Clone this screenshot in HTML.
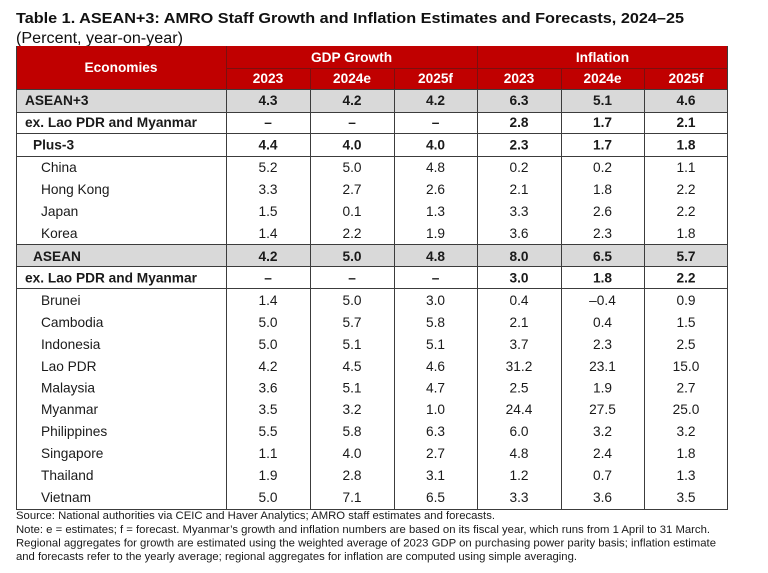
<!DOCTYPE html>
<html>
<head>
<meta charset="utf-8">
<style>
  html,body{margin:0;padding:0;background:#fff;}
  svg{display:block;}
  text{font-family:"Liberation Sans",Arial,sans-serif;}
</style>
</head>
<body>
<svg width="768" height="573" viewBox="0 0 768 573" xmlns="http://www.w3.org/2000/svg">
  <rect x="0" y="0" width="768" height="573" fill="#fff"/>
  <!-- Title -->
  <text x="16" y="23" font-size="15" font-weight="bold" fill="#111" textLength="668" lengthAdjust="spacingAndGlyphs">Table 1. ASEAN+3: AMRO Staff Growth and Inflation Estimates and Forecasts, 2024–25</text>
  <text x="16" y="43" font-size="15.5" fill="#111" textLength="167" lengthAdjust="spacingAndGlyphs">(Percent, year-on-year)</text>

  <!-- Header -->
  <rect x="16" y="46" width="712" height="43" fill="#C00000"/>
  <g stroke="#7a1010" stroke-width="1" shape-rendering="crispEdges">
    <line x1="226.5" y1="46" x2="226.5" y2="89"/>
    <line x1="477.5" y1="46" x2="477.5" y2="89"/>
    <line x1="226" y1="68.5" x2="728" y2="68.5"/>
    <line x1="310.5" y1="68" x2="310.5" y2="89"/>
    <line x1="394.5" y1="68" x2="394.5" y2="89"/>
    <line x1="561.5" y1="68" x2="561.5" y2="89"/>
    <line x1="644.5" y1="68" x2="644.5" y2="89"/>
  </g>
  <g fill="#fff" font-weight="bold" font-size="13.7" text-anchor="middle">
    <text x="121" y="72">Economies</text>
    <text x="351.5" y="62">GDP Growth</text>
    <text x="602.5" y="62">Inflation</text>
    <text x="268" y="83">2023</text>
    <text x="352" y="83">2024e</text>
    <text x="435.5" y="83">2025f</text>
    <text x="519" y="83">2023</text>
    <text x="602.5" y="83">2024e</text>
    <text x="686" y="83">2025f</text>
  </g>

  <!-- Gray rows -->
  <rect x="16" y="89" width="712" height="23" fill="#D9D9D9"/>
  <rect x="16" y="244" width="712" height="22" fill="#D9D9D9"/>

  <!-- Grid lines -->
  <g stroke="#3c3c3c" stroke-width="1" shape-rendering="crispEdges">
    <line x1="16" y1="89.5" x2="728" y2="89.5"/>
    <line x1="16" y1="112.5" x2="728" y2="112.5"/>
    <line x1="16" y1="133.5" x2="728" y2="133.5"/>
    <line x1="16" y1="156.5" x2="728" y2="156.5"/>
    <line x1="16" y1="244.5" x2="728" y2="244.5"/>
    <line x1="16" y1="266.5" x2="728" y2="266.5"/>
    <line x1="16" y1="288.5" x2="728" y2="288.5"/>
    <line x1="16" y1="509.5" x2="728" y2="509.5"/>
    <line x1="16.5" y1="46" x2="16.5" y2="510"/>
    <line x1="226.5" y1="89" x2="226.5" y2="510"/>
    <line x1="310.5" y1="89" x2="310.5" y2="510"/>
    <line x1="394.5" y1="89" x2="394.5" y2="510"/>
    <line x1="477.5" y1="89" x2="477.5" y2="510"/>
    <line x1="561.5" y1="89" x2="561.5" y2="510"/>
    <line x1="644.5" y1="89" x2="644.5" y2="510"/>
    <line x1="727.5" y1="46" x2="727.5" y2="510"/>
  </g>

  <!-- Row labels -->
  <g font-size="13.7" fill="#1a1a1a">
    <g font-weight="bold">
      <text x="25" y="105">ASEAN+3</text>
      <text x="25" y="127">ex. Lao PDR and Myanmar</text>
      <text x="33" y="149.5">Plus-3</text>
      <text x="33" y="261">ASEAN</text>
      <text x="25" y="282.5">ex. Lao PDR and Myanmar</text>
    </g>
    <text x="41" y="172">China</text>
    <text x="41" y="194">Hong Kong</text>
    <text x="41" y="216">Japan</text>
    <text x="41" y="238">Korea</text>
    <text x="41" y="305">Brunei</text>
    <text x="41" y="327">Cambodia</text>
    <text x="41" y="349">Indonesia</text>
    <text x="41" y="371">Lao PDR</text>
    <text x="41" y="392.5">Malaysia</text>
    <text x="41" y="414">Myanmar</text>
    <text x="41" y="436">Philippines</text>
    <text x="41" y="458">Singapore</text>
    <text x="41" y="480">Thailand</text>
    <text x="41" y="502">Vietnam</text>
  </g>

  <!-- Values -->
  <g font-size="13.7" fill="#1a1a1a" text-anchor="middle">
    <g font-weight="bold">
      <text x="268" y="105">4.3</text><text x="352" y="105">4.2</text><text x="435.5" y="105">4.2</text><text x="519" y="105">6.3</text><text x="602.5" y="105">5.1</text><text x="686" y="105">4.6</text>
      <text x="268" y="127">–</text><text x="352" y="127">–</text><text x="435.5" y="127">–</text><text x="519" y="127">2.8</text><text x="602.5" y="127">1.7</text><text x="686" y="127">2.1</text>
      <text x="268" y="149.5">4.4</text><text x="352" y="149.5">4.0</text><text x="435.5" y="149.5">4.0</text><text x="519" y="149.5">2.3</text><text x="602.5" y="149.5">1.7</text><text x="686" y="149.5">1.8</text>
      <text x="268" y="261">4.2</text><text x="352" y="261">5.0</text><text x="435.5" y="261">4.8</text><text x="519" y="261">8.0</text><text x="602.5" y="261">6.5</text><text x="686" y="261">5.7</text>
      <text x="268" y="282.5">–</text><text x="352" y="282.5">–</text><text x="435.5" y="282.5">–</text><text x="519" y="282.5">3.0</text><text x="602.5" y="282.5">1.8</text><text x="686" y="282.5">2.2</text>
    </g>
    <text x="268" y="172">5.2</text><text x="352" y="172">5.0</text><text x="435.5" y="172">4.8</text><text x="519" y="172">0.2</text><text x="602.5" y="172">0.2</text><text x="686" y="172">1.1</text>
    <text x="268" y="194">3.3</text><text x="352" y="194">2.7</text><text x="435.5" y="194">2.6</text><text x="519" y="194">2.1</text><text x="602.5" y="194">1.8</text><text x="686" y="194">2.2</text>
    <text x="268" y="216">1.5</text><text x="352" y="216">0.1</text><text x="435.5" y="216">1.3</text><text x="519" y="216">3.3</text><text x="602.5" y="216">2.6</text><text x="686" y="216">2.2</text>
    <text x="268" y="238">1.4</text><text x="352" y="238">2.2</text><text x="435.5" y="238">1.9</text><text x="519" y="238">3.6</text><text x="602.5" y="238">2.3</text><text x="686" y="238">1.8</text>
    <text x="268" y="305">1.4</text><text x="352" y="305">5.0</text><text x="435.5" y="305">3.0</text><text x="519" y="305">0.4</text><text x="602.5" y="305">–0.4</text><text x="686" y="305">0.9</text>
    <text x="268" y="327">5.0</text><text x="352" y="327">5.7</text><text x="435.5" y="327">5.8</text><text x="519" y="327">2.1</text><text x="602.5" y="327">0.4</text><text x="686" y="327">1.5</text>
    <text x="268" y="349">5.0</text><text x="352" y="349">5.1</text><text x="435.5" y="349">5.1</text><text x="519" y="349">3.7</text><text x="602.5" y="349">2.3</text><text x="686" y="349">2.5</text>
    <text x="268" y="371">4.2</text><text x="352" y="371">4.5</text><text x="435.5" y="371">4.6</text><text x="519" y="371">31.2</text><text x="602.5" y="371">23.1</text><text x="686" y="371">15.0</text>
    <text x="268" y="392.5">3.6</text><text x="352" y="392.5">5.1</text><text x="435.5" y="392.5">4.7</text><text x="519" y="392.5">2.5</text><text x="602.5" y="392.5">1.9</text><text x="686" y="392.5">2.7</text>
    <text x="268" y="414">3.5</text><text x="352" y="414">3.2</text><text x="435.5" y="414">1.0</text><text x="519" y="414">24.4</text><text x="602.5" y="414">27.5</text><text x="686" y="414">25.0</text>
    <text x="268" y="436">5.5</text><text x="352" y="436">5.8</text><text x="435.5" y="436">6.3</text><text x="519" y="436">6.0</text><text x="602.5" y="436">3.2</text><text x="686" y="436">3.2</text>
    <text x="268" y="458">1.1</text><text x="352" y="458">4.0</text><text x="435.5" y="458">2.7</text><text x="519" y="458">4.8</text><text x="602.5" y="458">2.4</text><text x="686" y="458">1.8</text>
    <text x="268" y="480">1.9</text><text x="352" y="480">2.8</text><text x="435.5" y="480">3.1</text><text x="519" y="480">1.2</text><text x="602.5" y="480">0.7</text><text x="686" y="480">1.3</text>
    <text x="268" y="502">5.0</text><text x="352" y="502">7.1</text><text x="435.5" y="502">6.5</text><text x="519" y="502">3.3</text><text x="602.5" y="502">3.6</text><text x="686" y="502">3.5</text>
  </g>

  <!-- Notes -->
  <g font-size="11" fill="#1a1a1a">
    <text x="16" y="519" textLength="479" lengthAdjust="spacingAndGlyphs">Source: National authorities via CEIC and Haver Analytics; AMRO staff estimates and forecasts.</text>
    <text x="16" y="533" textLength="694" lengthAdjust="spacingAndGlyphs">Note: e = estimates; f = forecast. Myanmar’s growth and inflation numbers are based on its fiscal year, which runs from 1 April to 31 March.</text>
    <text x="16" y="546.5" textLength="700" lengthAdjust="spacingAndGlyphs">Regional aggregates for growth are estimated using the weighted average of 2023 GDP on purchasing power parity basis; inflation estimate</text>
    <text x="16" y="560" textLength="561" lengthAdjust="spacingAndGlyphs">and forecasts refer to the yearly average; regional aggregates for inflation are computed using simple averaging.</text>
  </g>
</svg>
</body>
</html>
